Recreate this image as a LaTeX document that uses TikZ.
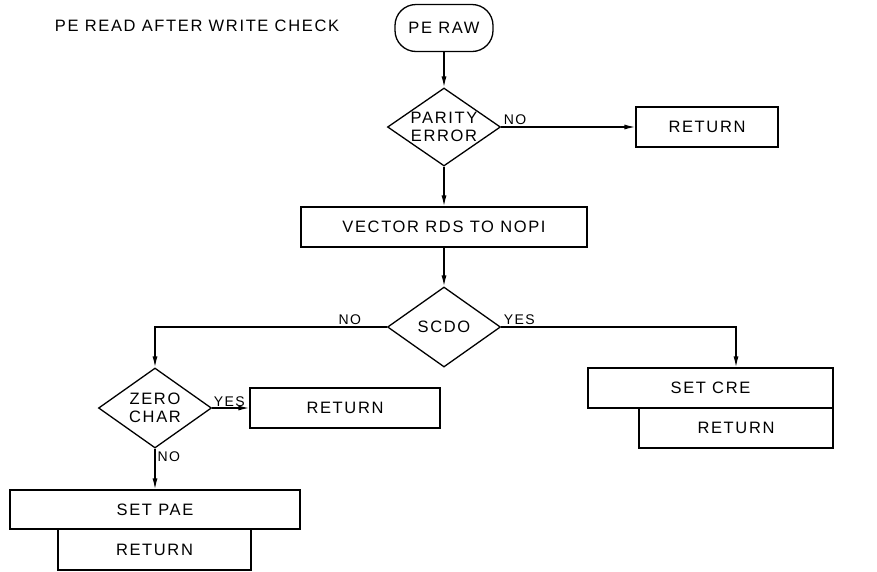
\documentclass[tikz,border=0pt]{standalone}
\usepackage{fontspec}
\setmainfont{Liberation Sans}[LetterSpace=10]
\usetikzlibrary{arrows.meta,shapes.geometric}

\tikzset{
  box/.style={draw,rectangle,line width=1.3pt,inner sep=0pt,minimum height=40pt},
  decision/.style={draw,diamond,line width=1.3pt,inner sep=0pt,minimum width=113pt,minimum height=80pt},
  flow/.style={line width=1.3pt,-{Latex[length=11pt,width=5pt]}},
  answer/.style={font=\fontsize{14}{16}\selectfont,inner sep=2pt}
}

\begin{document}
\begin{tikzpicture}[x=1pt,y=-1pt,font=\fontsize{16.5}{18}\selectfont]
  \useasboundingbox (0,0) rectangle (877,571);
  \node (title) at (197,26) {PE READ AFTER WRITE CHECK};
  \node[draw,line width=1.3pt,rounded corners=21pt,minimum width=98pt,minimum height=47pt] (start) at (444,28) {PE RAW};
  \node[decision,minimum height=78pt,label={[align=center]center:PARITY\\ERROR}] (parity) at (444,127) {};
  \node[box,minimum width=142pt] (ret1) at (707,127) {RETURN};
  \node[box,minimum width=286pt] (vector) at (444,227) {VECTOR RDS TO NOPI};
  \node[decision,label=center:SCDO] (scdo) at (444,327) {};
  \node[decision,label={[align=center]center:ZERO\\CHAR}] (zero) at (155,408) {};
  \node[box,minimum width=190pt] (ret2) at (345,408) {RETURN};
  \node[box,minimum width=245pt] (cre) at (710.5,388) {SET CRE};
  \node[box,minimum width=194pt] (ret3) at (736,428) {RETURN};
  \node[box,minimum width=290pt,minimum height=39pt] (pae) at (155,509.5) {SET PAE};
  \node[box,minimum width=193pt,minimum height=41pt] (ret4) at (154.5,549.5) {RETURN};

  \draw[flow] (start) -- (parity);
  \draw[flow] (parity.east) -- node[answer,pos=0,above right]{NO} (ret1.west);
  \draw[flow] (parity) -- (vector);
  \draw[flow] (vector) -- (scdo);
  \draw[flow] (scdo.west) -| node[answer,pos=0.05,above left]{NO} (zero.north);
  \draw[flow] (scdo.east) -| node[answer,pos=0,above right]{YES} (ret3.north |- cre.north);
  \draw[flow] (zero.east) -- node[answer,pos=0,above right,inner sep=1pt]{YES} (ret2.west);
  \draw[flow] (zero) -- node[answer,pos=0,below right]{NO} (pae);
\end{tikzpicture}
\end{document}
